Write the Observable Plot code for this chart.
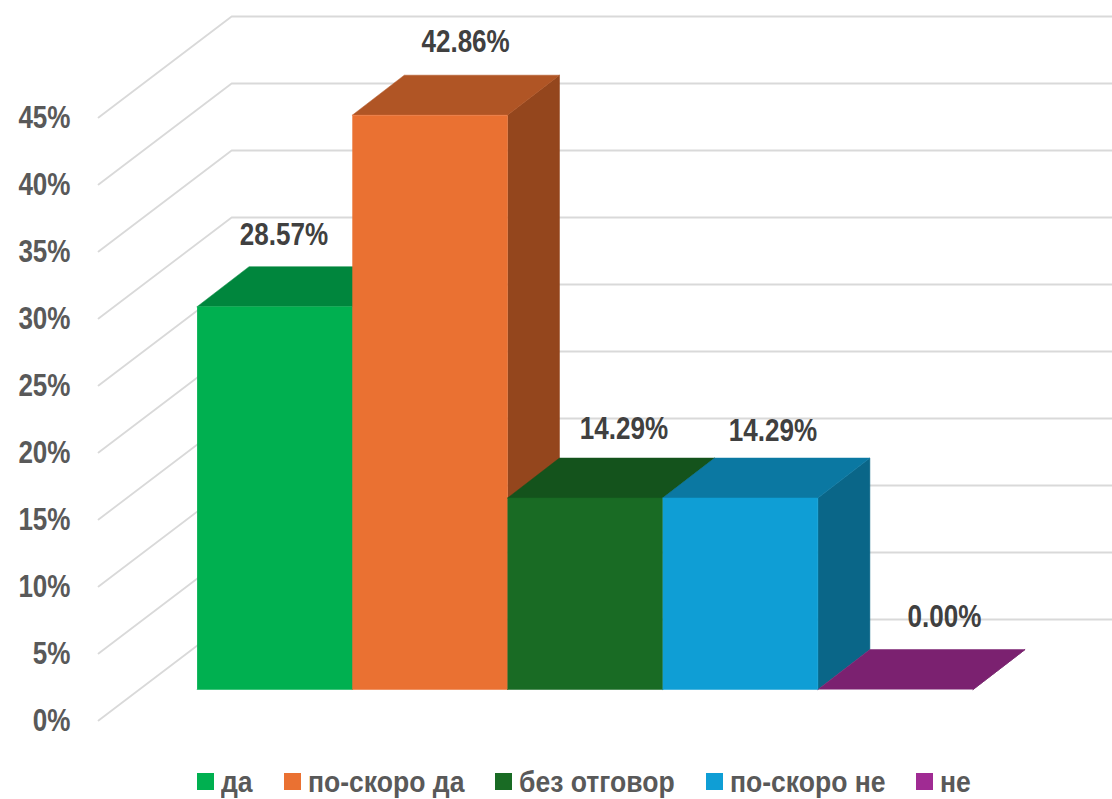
<!DOCTYPE html>
<html>
<head>
<meta charset="utf-8">
<script src="https://cdn.jsdelivr.net/npm/d3@7"></script>
<script src="https://cdn.jsdelivr.net/npm/@observablehq/plot@0.6"></script>
<style>
html,body{margin:0;padding:0;background:#fff;}
#chart{position:relative;width:1112px;height:799px;overflow:hidden;}
#chart svg{display:block;background:#fff;}
#legend{position:absolute;left:197px;top:764px;font:bold 30px "Liberation Sans",sans-serif;color:#595959;line-height:36px;white-space:nowrap;}
#legend div{position:absolute;display:flex;align-items:center;}
#legend i{display:block;width:17px;height:17px;margin-right:6.5px;margin-top:-2px;}
#legend span{display:block;transform:scaleX(0.885);transform-origin:left center;}
</style>
</head>
<body>
<div id="chart"><div id="legend"></div></div>
<script>
// Data
const categories = ["да", "по-скоро да", "без отговор", "по-скоро не", "не"];
const values = [28.57, 42.86, 14.29, 14.29, 0];
const valueLabels = ["28.57%", "42.86%", "14.29%", "14.29%", "0.00%"];
const yTicks = [0, 5, 10, 15, 20, 25, 30, 35, 40, 45];

// Styles
const frontColors = ["#00b050", "#ea7132", "#196b24", "#0f9ed5", "#a02b93"];
const topColors = ["#00863d", "#b05525", "#14531c", "#0b78a2", "#7b2170"];
const sideColors = ["#006b31", "#94461d", "#0f4016", "#0a6688", "#5f1a57"];

// Oblique projection in data units
const K = 0.335, KW = 0.3396, DY = 2.985, BASE = 2.313;
const zWall = -BASE / DY, zBack = 1.75, xEdge = -0.635, xRight = 5.9;
const xWall = xEdge - zWall * KW;
const P = (i, v, z, k = K) => ({x: i + z * k, y: BASE + v + z * DY});

// Label placement offsets, in data units
const labelShift = [
  {dx: 0.06, dy: 2.35},
  {dx: 0.23, dy: 2.5},
  {dx: 0.25, dy: 2.15},
  {dx: 0.21, dy: 2.0},
  {dx: 0.315, dy: 2.45}
];

const grid = yTicks.flatMap(t => [
  {t, ...P(xWall, t, zWall, KW)},
  {t, ...P(xWall, t, zBack, KW)},
  {t, x: xRight, y: P(0, t, zBack).y}
]);

const faces = values.flatMap((v, i) => {
  const face = (name, color, pts) => pts.map(p => ({id: i + name, color, ...p}));
  return [
    ...face("side", sideColors[i], [P(i+1,0,0), P(i+1,0,1), P(i+1,v,1), P(i+1,v,0)]),
    ...face("top", topColors[i], [P(i,v,0), P(i,v,1), P(i+1,v,1), P(i+1,v,0)]),
    ...(v > 0 ? face("front", frontColors[i], [P(i,0,0), P(i+1,0,0), P(i+1,v,0), P(i,v,0)]) : [])
  ];
});

const labels = values.map((v, i) => ({
  text: valueLabels[i],
  x: i + 0.5 + labelShift[i].dx,
  y: BASE + v + DY + labelShift[i].dy
}));

const FONT = '"Liberation Sans",sans-serif';
const plot = Plot.plot({
  width: 1112,
  height: 760,
  marginLeft: 70,
  marginRight: 0,
  marginTop: 0,
  marginBottom: 0,
  x: {domain: [0, 5], range: [196.6, 972.6], axis: null},
  y: {domain: [0, 45], range: [720, 117]},
  color: {type: "identity"},
  style: {fontFamily: FONT, background: "#fff"},
  marks: [
    Plot.line(grid, {x: "x", y: "y", z: "t", stroke: "#d9d9d9", strokeWidth: 1.8, strokeLinejoin: "miter"}),
    Plot.line(faces, {x: "x", y: "y", z: "id", fill: "color", stroke: "color", strokeWidth: 0.5, strokeLinejoin: "miter"}),
    Plot.axisY({
      ticks: yTicks,
      tickFormat: d => d + "%",
      tickSize: 0,
      tickPadding: 0,
      label: null,
      fontSize: 31,
      fontWeight: "bold",
      fill: "#595959",
      color: "#595959",
      dy: 0.7
    }),
    Plot.text(labels, {x: "x", y: "y", text: "text", fontSize: 31, fontWeight: "bold", fill: "#404040", fontFamily: FONT})
  ]
});
document.getElementById("chart").prepend(plot);

// Condense the installed font to the narrow face of the reference
plot.querySelectorAll("text").forEach(t => {
  const len = t.getComputedTextLength();
  if (len > 0) {
    t.setAttribute("textLength", (len * 0.84).toFixed(2));
    t.setAttribute("lengthAdjust", "spacingAndGlyphs");
  }
});

// Legend
const legendLeft = [0, 87, 298, 509, 719];
const legend = document.getElementById("legend");
categories.forEach((c, i) => {
  const d = document.createElement("div");
  d.style.left = legendLeft[i] + "px";
  const s = document.createElement("i");
  s.style.background = frontColors[i];
  const l = document.createElement("span");
  l.textContent = c;
  d.appendChild(s);
  d.appendChild(l);
  legend.appendChild(d);
});
</script>
</body>
</html>
